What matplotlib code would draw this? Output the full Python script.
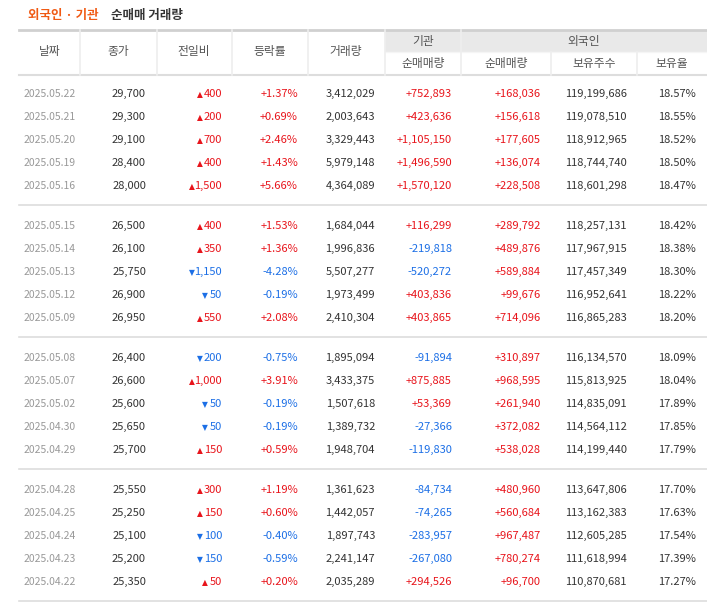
import matplotlib.pyplot as plt

plt.rcParams['font.family'] = ['Noto Sans CJK KR', 'DejaVu Sans']

dates = ['2025.05.22', '2025.05.21', '2025.05.20', '2025.05.19', '2025.05.16',
         '2025.05.15', '2025.05.14', '2025.05.13', '2025.05.12', '2025.05.09',
         '2025.05.08', '2025.05.07', '2025.05.02', '2025.04.30', '2025.04.29',
         '2025.04.28', '2025.04.25', '2025.04.24', '2025.04.23', '2025.04.22']
close = [29700, 29300, 29100, 28400, 28000, 26500, 26100, 25750, 26900, 26950,
         26400, 26600, 25600, 25650, 25700, 25550, 25250, 25100, 25200, 25350]
change = [400, 200, 700, 400, 1500, 400, 350, -1150, -50, 550,
          -200, 1000, -50, -50, 150, 300, 150, -100, -150, 50]
pct = [1.37, 0.69, 2.46, 1.43, 5.66, 1.53, 1.36, -4.28, -0.19, 2.08,
       -0.75, 3.91, -0.19, -0.19, 0.59, 1.19, 0.60, -0.40, -0.59, 0.20]
volume = [3412029, 2003643, 3329443, 5979148, 4364089, 1684044, 1996836, 5507277, 1973499, 2410304,
          1895094, 3433375, 1507618, 1389732, 1948704, 1361623, 1442057, 1897743, 2241147, 2035289]
inst_net = [752893, 423636, 1105150, 1496590, 1570120, 116299, -219818, -520272, 403836, 403865,
            -91894, 875885, 53369, -27366, -119830, -84734, -74265, -283957, -267080, 294526]
frgn_net = [168036, 156618, 177605, 136074, 228508, 289792, 489876, 589884, 99676, 714096,
            310897, 968595, 261940, 372082, 538028, 480960, 560684, 967487, 780274, 96700]
frgn_hold = [119199686, 119078510, 118912965, 118744740, 118601298, 118257131, 117967915, 117457349,
             116952641, 116865283, 116134570, 115813925, 114835091, 114564112, 114199440, 113647806,
             113162383, 112605285, 111618994, 110870681]
frgn_ratio = [18.57, 18.55, 18.52, 18.50, 18.47, 18.42, 18.38, 18.30, 18.22, 18.20,
              18.09, 18.04, 17.89, 17.85, 17.79, 17.70, 17.63, 17.54, 17.39, 17.27]

RED = '#e8141b'
BLUE = '#1c6fe6'
DARK = '#333333'
LINE = '#dddddd'

fig = plt.figure(figsize=(7.07, 6.02), dpi=100)
ax = fig.add_axes([0, 0, 1, 1])
ax.set_xlim(0, 707)
ax.set_ylim(602, 0)
ax.axis('off')

# title
ax.text(28, 16, '외국인 · 기관', color='#f05a14', fontsize=9, fontweight='bold', va='center')
ax.text(111, 16, '순매매 거래량', color=DARK, fontsize=9, fontweight='bold', va='center')

# header
borders = [19, 80, 157, 232, 308, 385, 461, 551, 637, 707]
ax.fill_between([385, 707], 30, 52, color='#e9e9e9', lw=0)
ax.plot([19, 707], [30, 30], color='#d0d0d0', lw=2)
ax.plot([19, 707], [75, 75], color=LINE, lw=1.5)
ax.plot([385, 707], [52, 52], color='#f5f5f5', lw=1)
for x in borders[1:-1]:
    top = 52 if x in (551, 637) else 30
    ax.plot([x, x], [top, 75], color='#eeeeee', lw=1.2)
hdr = dict(color='#555555', fontsize=8.5, ha='center', va='center')
for lbl, x in zip(['날짜', '종가', '전일비', '등락률', '거래량'], [49.5, 118, 194, 270, 346]):
    ax.text(x, 52, lbl, **hdr)
ax.text(423, 41, '기관', **hdr)
ax.text(584, 41, '외국인', **hdr)
for lbl, x in zip(['순매매량', '순매매량', '보유주수', '보유율'], [423, 506, 594, 672]):
    ax.text(x, 63, lbl, **hdr)


def col(v):
    return RED if v > 0 else BLUE


rows_y = []
for g in range(4):
    for k in range(5):
        rows_y.append(94 + g * 132 + k * 23)
for g in range(4):
    y = 205 + g * 132
    ax.plot([19, 707], [y, y], color=LINE, lw=1.2)

fs = 8
for i, y in enumerate(rows_y):
    ax.text(24, y, dates[i], color='#999999', fontsize=7.5, va='center')
    ax.text(146, y, f'{close[i]:,}', color=DARK, fontsize=fs, ha='right', va='center')
    c = col(change[i])
    num = f'{abs(change[i]):,}'
    ax.text(222, y, num, color=c, fontsize=fs, ha='right', va='center')
    width = 5.6 * sum(ch.isdigit() for ch in num) + 2.5 * num.count(',')
    ax.text(222 - width - 2.5, y + 0.5, '▲' if change[i] > 0 else '▼', color=c,
            fontsize=5.5, ha='right', va='center', family='DejaVu Sans')
    ax.text(298, y, f'{pct[i]:+.2f}%', color=col(pct[i]), fontsize=fs, ha='right', va='center')
    ax.text(375, y, f'{volume[i]:,}', color=DARK, fontsize=fs, ha='right', va='center')
    ax.text(452, y, f'{inst_net[i]:+,}', color=col(inst_net[i]), fontsize=fs, ha='right', va='center')
    ax.text(541, y, f'{frgn_net[i]:+,}', color=col(frgn_net[i]), fontsize=fs, ha='right', va='center')
    ax.text(627, y, f'{frgn_hold[i]:,}', color=DARK, fontsize=fs, ha='right', va='center')
    ax.text(696, y, f'{frgn_ratio[i]:.2f}%', color=DARK, fontsize=fs, ha='right', va='center')

fig.savefig('out.png', dpi=100)
